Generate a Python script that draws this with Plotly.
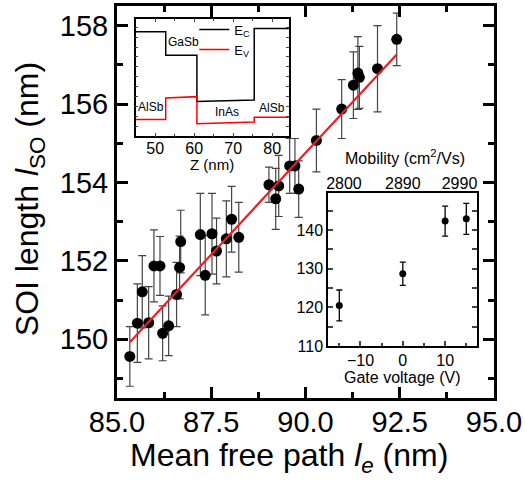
import plotly.graph_objects as go

# ---------------- main data ----------------
mfp = [85.34, 85.54, 85.67, 85.84, 85.98, 86.14, 86.21, 86.37, 86.58, 86.66,
       86.69, 87.21, 87.34, 87.52, 87.64, 87.90, 88.04, 88.23, 89.03, 89.21,
       89.29, 89.58, 89.72, 89.82, 90.29, 90.96, 91.27, 91.39, 91.43, 91.91,
       92.42]
soi = [149.56, 150.41, 151.21, 150.42, 151.87, 151.87, 150.15, 150.34, 151.14, 151.83,
       152.49, 152.67, 151.63, 152.69, 152.25, 152.56, 153.06, 152.60, 153.94, 153.58,
       153.91, 154.42, 154.42, 153.83, 155.07, 155.87, 156.48, 156.79, 156.68, 156.90,
       157.65]
soi_err = [0.76, 1.00, 0.92, 0.92, 0.92, 0.75, 0.70, 0.76, 0.82, 0.80,
           0.80, 1.05, 1.01, 1.03, 0.84, 0.97, 0.84, 0.89, 0.45, 0.78,
           0.78, 0.70, 0.70, 0.72, 0.80, 0.75, 0.85, 0.93, 0.79, 1.10,
           0.67]
fit_x = [85.34, 92.42]
fit_y = [149.92, 157.26]

# ---------------- inset 1: band diagram ----------------
band_z = [45, 52.7, 52.7, 60.7, 60.7, 75.4, 75.4, 84.3]
band_ec = [3.16, 3.16, 2.45, 2.45, 1.05, 1.10, 3.26, 3.26]
band_ev = [0.51, 0.51, 1.16, 1.20, 0.38, 0.43, 0.58, 0.58]
layer_names = ["GaSb", "AlSb", "InAs", "AlSb"]
layer_z = [57.3, 48.9, 68.5, 79.9]
layer_e = [2.85, 0.88, 0.75, 0.85]

# ---------------- inset 2: gate dependence ----------------
gate_v = [-15, 0, 10, 15]
l_so_gate = [120.5, 128.7, 142.3, 142.9]
l_so_gate_err = [4.0, 3.0, 3.9, 4.0]
mobility_pos = [-13.9, 0, 13.4]
mobility_labels = ["2800", "2890", "2990"]

FONT = "Liberation Sans, Arial, sans-serif"

fig = go.Figure()

fig.add_trace(go.Scatter(
    x=mfp, y=soi, mode="markers",
    marker=dict(color="black", size=11),
    error_y=dict(type="data", array=soi_err, color="#444444", thickness=1.2, width=4),
    showlegend=False, xaxis="x", yaxis="y"))
fig.add_trace(go.Scatter(
    x=fit_x, y=fit_y, mode="lines",
    line=dict(color="#ee1c25", width=2.2),
    showlegend=False, xaxis="x", yaxis="y"))

fig.add_trace(go.Scatter(
    x=band_z, y=band_ec, mode="lines", name="E<sub>C</sub>",
    line=dict(color="black", width=1.5), xaxis="x2", yaxis="y2"))
fig.add_trace(go.Scatter(
    x=band_z, y=band_ev, mode="lines", name="E<sub>V</sub>",
    line=dict(color="#ff0000", width=1.5), xaxis="x2", yaxis="y2"))

fig.add_trace(go.Scatter(
    x=gate_v, y=l_so_gate, mode="markers",
    marker=dict(color="black", size=7),
    error_y=dict(type="data", array=l_so_gate_err, color="black", thickness=1.3, width=3),
    showlegend=False, xaxis="x3", yaxis="y3"))
# invisible trace to activate the top (mobility) axis
fig.add_trace(go.Scatter(
    x=gate_v, y=l_so_gate, mode="markers", marker=dict(opacity=0),
    hoverinfo="skip", showlegend=False, xaxis="x4", yaxis="y3"))

main_ax = dict(showline=True, linewidth=3, linecolor="black", mirror="allticks",
               ticks="inside", ticklen=11, tickwidth=2.5, tickcolor="black",
               showgrid=False, zeroline=False,
               tickfont=dict(family=FONT, size=29, color="black"))

fig.update_layout(
    width=525, height=498,
    margin=dict(l=117, r=31, t=3, b=100),
    paper_bgcolor="white", plot_bgcolor="white",
    font=dict(family=FONT, color="black"),
    xaxis=dict(main_ax, domain=[0, 1], range=[85, 95], tick0=85, dtick=2.5,
               tickformat=".1f", anchor="y", ticklabelstandoff=-4,
               minor=dict(dtick=1.25, ticklen=6, tickwidth=2.5, ticks="inside", tickcolor="black")),
    yaxis=dict(main_ax, domain=[0, 1], range=[148.5, 158.5], tick0=150, dtick=2,
               anchor="x",
               minor=dict(dtick=1, ticklen=6, tickwidth=2.5, ticks="inside", tickcolor="black")),
    xaxis2=dict(domain=[0.0496, 0.456], anchor="y2", range=[45, 84.3],
                tick0=50, dtick=10, showline=True, linewidth=1.5, linecolor="black",
                mirror="allticks", ticks="inside", ticklen=4, tickwidth=1,
                minor=dict(dtick=5, ticklen=3, ticks="inside"),
                showgrid=False, zeroline=False, ticklabelstandoff=-3,
                tickfont=dict(family=FONT, size=16, color="black")),
    yaxis2=dict(domain=[0.6676, 0.9678], anchor="x2", range=[0, 3.56],
                dtick=0.3, showline=True, linewidth=1.5, linecolor="black",
                mirror="allticks", ticks="inside", ticklen=3, tickwidth=1,
                showticklabels=False, showgrid=False, zeroline=False),
    xaxis3=dict(domain=[0.5605, 0.9557], anchor="y3", range=[-17.6, 17.6],
                tick0=0, dtick=10, showline=True, linewidth=2, linecolor="black",
                mirror=True, ticks="inside", ticklen=5, tickwidth=1.5,
                minor=dict(dtick=5, ticklen=3, ticks="inside"),
                showgrid=False, zeroline=False, ticklabelstandoff=-1,
                tickfont=dict(family=FONT, size=16, color="black")),
    xaxis4=dict(overlaying="x3", side="top", anchor="y3", range=[-17.6, 17.6],
                tickmode="array", tickvals=mobility_pos, ticktext=mobility_labels,
                ticks="", showline=False, showgrid=False, zeroline=False,
                tickfont=dict(family=FONT, size=16, color="black")),
    yaxis3=dict(domain=[0.1324, 0.5223], anchor="x3", range=[110, 149.5],
                tick0=110, dtick=10, showline=True, linewidth=2, linecolor="black",
                mirror="allticks", ticks="inside", ticklen=5, tickwidth=1.5,
                minor=dict(dtick=5, ticklen=3, ticks="inside"),
                showgrid=False, zeroline=False,
                tickfont=dict(family=FONT, size=16, color="black")),
    legend=dict(x=0.205, y=0.978, xanchor="left", yanchor="top",
                bgcolor="rgba(0,0,0,0)", font=dict(family=FONT, size=13, color="black"),
                tracegroupgap=0, itemwidth=30),
)

ann = []
ann.append(dict(text="Mean free path <i>l</i><sub><i>e</i></sub> (nm)", xref="paper", yref="paper",
                x=0.456, y=-0.153, xanchor="center", yanchor="middle", showarrow=False,
                font=dict(family=FONT, size=32, color="black")))
ann.append(dict(text="SOI length <i>l</i><sub>SO</sub> (nm)", xref="paper", yref="paper",
                x=-0.232, y=0.506, xanchor="center", yanchor="middle", textangle=-90,
                showarrow=False, font=dict(family=FONT, size=32, color="black")))
ann.append(dict(text="Mobility (cm<sup>2</sup>/Vs)", xref="paper", yref="paper",
                x=0.763, y=0.615, xanchor="center", yanchor="middle", showarrow=False,
                font=dict(family=FONT, size=16, color="black")))
ann.append(dict(text="Gate voltage (V)", xref="paper", yref="paper",
                x=0.758, y=0.053, xanchor="center", yanchor="middle", showarrow=False,
                font=dict(family=FONT, size=16, color="black")))
ann.append(dict(text="Z (nm)", xref="paper", yref="paper",
                x=0.252, y=0.595, xanchor="center", yanchor="middle", showarrow=False,
                font=dict(family=FONT, size=15, color="black")))
for name, z, e in zip(layer_names, layer_z, layer_e):
    ann.append(dict(text=name, xref="x2", yref="y2", x=z, y=e,
                    xanchor="center", yanchor="middle", showarrow=False,
                    font=dict(family=FONT, size=12, color="black")))
fig.update_layout(annotations=ann)

fig.write_html("out.html", config={"displayModeBar": False},
               post_script="document.body.style.margin='0px';")
